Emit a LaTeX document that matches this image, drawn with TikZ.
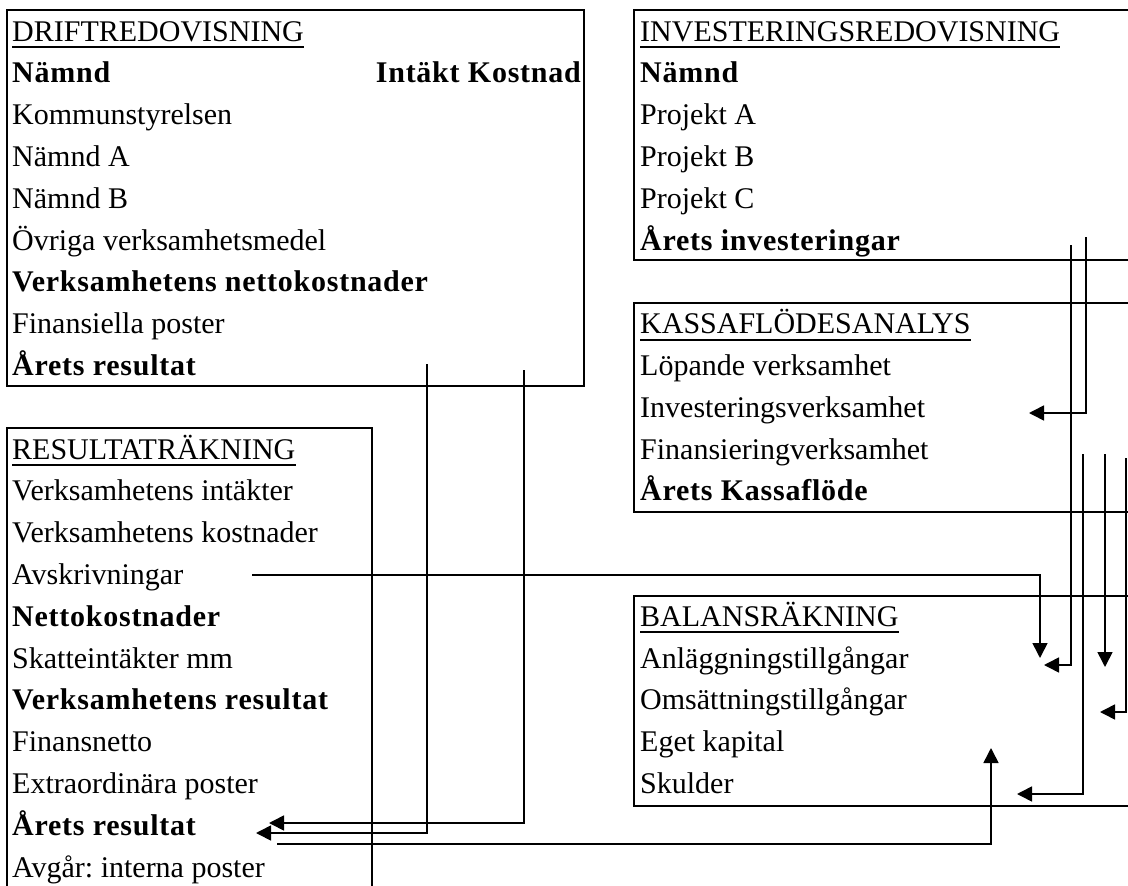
\documentclass[tikz,border=0pt]{standalone}
\usepackage{fontspec}
\setmainfont{Liberation Serif}
\usetikzlibrary{arrows.meta}
\frenchspacing
\begin{document}
\begin{tikzpicture}[x=1pt,y=-1pt,
  box/.style={draw,line width=2pt},
  txt/.style={anchor=base west,inner sep=0pt,font=\fontsize{30}{36}\selectfont},
  btxt/.style={txt,font=\fontsize{30}{36}\selectfont\bfseries\addfontfeature{LetterSpace=2.5}},
  conn/.style={line width=1.6pt},
  arr/.style={conn,-{Triangle[length=15pt,width=15pt]}},
  uline/.style={line width=1.8pt}]
\useasboundingbox (0,0) rectangle (1128,886);
\clip (0,0) rectangle (1128,886);
% boxes
\draw[box] (7,9.5) rectangle (584,386);
\draw[box] (634,9.5) rectangle (1140,260);
\draw[box] (634,303) rectangle (1140,512);
\draw[box] (7,428) rectangle (372,900);
\draw[box] (634,596) rectangle (1140,806);
% DRIFTREDOVISNING
\node[txt]  (d0) at (12,{41+41.8*0}) {DRIFTREDOVISNING};
\node[btxt] (d1) at (12,{41+41.8*1}) {Nämnd};
\node[btxt,anchor=base east] (d1b) at (581,{41+41.8*1}) {Intäkt Kostnad};
\node[txt]  (d2) at (12,{41+41.8*2}) {Kommunstyrelsen};
\node[txt]  (d3) at (12,{41+41.8*3}) {Nämnd A};
\node[txt]  (d4) at (12,{41+41.8*4}) {Nämnd B};
\node[txt]  (d5) at (12,{41+41.8*5}) {Övriga verksamhetsmedel};
\node[btxt] (d6) at (12,{41+41.8*6}) {Verksamhetens nettokostnader};
\node[txt]  (d7) at (12,{41+41.8*7}) {Finansiella poster};
\node[btxt] (d8) at (12,{41+41.8*8}) {Årets resultat};
% INVESTERINGSREDOVISNING
\node[txt]  (i0) at (640,{41+41.8*0}) {INVESTERINGSREDOVISNING};
\node[btxt] (i1) at (640,{41+41.8*1}) {Nämnd};
\node[txt]  (i2) at (640,{41+41.8*2}) {Projekt A};
\node[txt]  (i3) at (640,{41+41.8*3}) {Projekt B};
\node[txt]  (i4) at (640,{41+41.8*4}) {Projekt C};
\node[btxt] (i5) at (640,{41+41.8*5}) {Årets investeringar};
% KASSAFLÖDESANALYS
\node[txt]  (k0) at (640,{41+41.8*7}) {KASSAFLÖDESANALYS};
\node[txt]  (k1) at (640,{41+41.8*8}) {Löpande verksamhet};
\node[txt]  (k2) at (640,{41+41.8*9}) {Investeringsverksamhet};
\node[txt]  (k3) at (640,{41+41.8*10}) {Finansieringverksamhet};
\node[btxt] (k4) at (640,{41+41.8*11}) {Årets Kassaflöde};
% RESULTATRÄKNING
\node[txt]  (r0) at (12,{41+41.8*10}) {RESULTATRÄKNING};
\node[txt]  (r1) at (12,{41+41.8*11}) {Verksamhetens intäkter};
\node[txt]  (r2) at (12,{41+41.8*12}) {Verksamhetens kostnader};
\node[txt]  (r3) at (12,{41+41.8*13}) {Avskrivningar};
\node[btxt] (r4) at (12,{41+41.8*14}) {Nettokostnader};
\node[txt]  (r5) at (12,{41+41.8*15}) {Skatteintäkter mm};
\node[btxt] (r6) at (12,{41+41.8*16}) {Verksamhetens resultat};
\node[txt]  (r7) at (12,{41+41.8*17}) {Finansnetto};
\node[txt]  (r8) at (12,{41+41.8*18}) {Extraordinära poster};
\node[btxt] (r9) at (12,{41+41.8*19}) {Årets resultat};
\node[txt]  (r10) at (12,{41+41.8*20}) {Avgår: interna poster};
% BALANSRÄKNING
\node[txt]  (b0) at (640,{41+41.8*14}) {BALANSRÄKNING};
\node[txt]  (b1) at (640,{41+41.8*15}) {Anläggningstillgångar};
\node[txt]  (b2) at (640,{41+41.8*16}) {Omsättningstillgångar};
\node[txt]  (b3) at (640,{41+41.8*17}) {Eget kapital};
\node[txt]  (b4) at (640,{41+41.8*18}) {Skulder};
% underlines
\foreach \h in {d0,i0,k0,r0,b0}
  \draw[uline] ([yshift=-6pt]\h.base west) -- ([yshift=-6pt]\h.base east);
% connector end points
\coordinate (s1) at (427,364);  \coordinate (t1) at (256,833);
\coordinate (s2) at (524,370);  \coordinate (t2) at (269,823);
\coordinate (s3) at (277,844);  \coordinate (t3) at (991,748);
\coordinate (s4) at (252,575);  \coordinate (t4) at (1040,658);
\coordinate (s5) at (1086,237); \coordinate (t5) at (1029,413);
\coordinate (s6) at (1071,245); \coordinate (t6) at (1044,665);
\coordinate (s7) at (1083,454); \coordinate (t7) at (1017,794);
\coordinate (s8) at (1105,454); \coordinate (t8) at (1105,667);
\coordinate (s9) at (1126,458); \coordinate (t9) at (1100,712);
% connectors
\draw[arr] (s1) |- (t1);
\draw[arr] (s2) |- (t2);
\draw[arr] (s3) -| (t3);
\draw[arr] (s4) -| (t4);
\draw[arr] (s5) |- (t5);
\draw[arr] (s6) |- (t6);
\draw[arr] (s7) |- (t7);
\draw[arr] (s8) -- (t8);
\draw[arr] (s9) |- (t9);
\end{tikzpicture}
\end{document}
